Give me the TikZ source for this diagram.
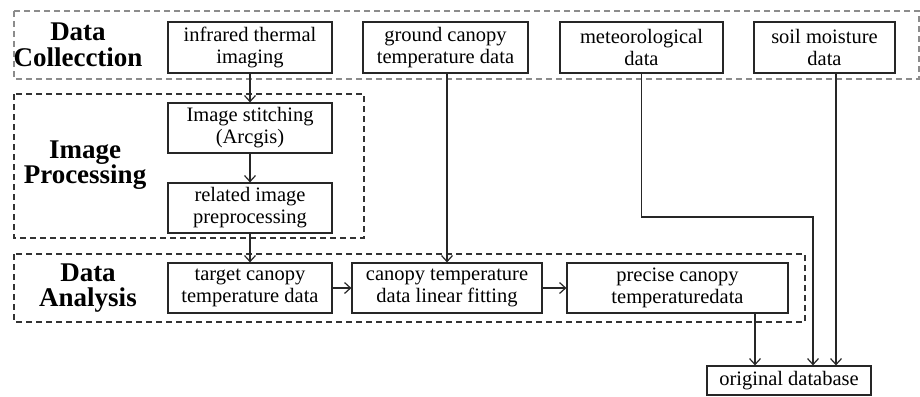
\documentclass[tikz,border=0pt]{standalone}
\usepackage{fontspec}
\setmainfont{Liberation Serif}
\usetikzlibrary{arrows.meta}
\begin{document}
\begin{tikzpicture}[x=1pt,y=-1pt,
  box/.style={draw=black!85, line width=1.2pt, rectangle, inner sep=0pt, align=center,
    font=\fontsize{20.5}{22}\selectfont, minimum height=51},
  grp/.style={line width=1.1pt, dash pattern=on 6pt off 4pt},
  lbl/.style={align=center, font=\fontsize{27}{25.5}\selectfont\bfseries},
  arr/.style={draw=black!85, line width=1.2pt, -{Straight Barb[length=6pt,width=11pt]}},
  ln/.style={draw=black!85, line width=1.2pt}]
\useasboundingbox (0,0) rectangle (920,396);
% group frames
\draw[grp, draw=black!45] (14,11) rectangle (919,79);
\draw[grp, draw=black!80] (14,94) rectangle (364,238);
\draw[grp, draw=black!80] (14,254) rectangle (805,322);
% labels
\node[lbl] (lc) at (78,45) {Data\\Collecction};
\node[lbl] (lp) at (85,165) {Image\\Processing};
\node[lbl] (la) at (88,288) {Data\\Analysis};
% boxes
\node[box, minimum width=164] (inf) at (250,47.5) {infrared thermal\\imaging};
\node[box, minimum width=165] (gc) at (445.5,47.5) {ground canopy\\temperature data};
\node[box, minimum width=163] (met) at (641.5,47.5) {meteorological\\data};
\node[box, minimum width=141] (soil) at (824.5,47.5) {soil moisture\\data};
\node[box, minimum width=164, minimum height=50] (st) at (250,128) {Image stitching\\(Arcgis)};
\node[box, minimum width=164, minimum height=50] (rel) at (250,208) {related image\\preprocessing};
\node[box, minimum width=164, minimum height=50] (tgt) at (250,288) {target canopy\\temperature data};
\node[box, minimum width=190, minimum height=50] (fit) at (447,288) {canopy temperature\\data linear fitting};
\node[box, minimum width=221, minimum height=50] (prec) at (677.5,288) {precise canopy\\temperaturedata};
\node[box, minimum width=164, minimum height=29] (db) at (789,380.5) {original database};
% helper coordinates
\coordinate (mbend) at (813,217);
\coordinate (sx) at (836,0);
\coordinate (px) at (755,0);
% connectors
\draw[arr] (inf.south) -- (st.north);
\draw[arr] (st.south) -- (rel.north);
\draw[arr] (rel.south) -- (tgt.north);
\draw[arr] (fit.north |- gc.south) -- (fit.north);
\draw[arr] (tgt.east) -- (fit.west);
\draw[arr] (fit.east) -- (prec.west);
\draw[arr] (met.south) |- (mbend) -- (mbend |- db.north);
\draw[arr] (sx |- soil.south) -- (sx |- db.north);
\draw[arr] (px |- prec.south) -- (px |- db.north);
\end{tikzpicture}
\end{document}
